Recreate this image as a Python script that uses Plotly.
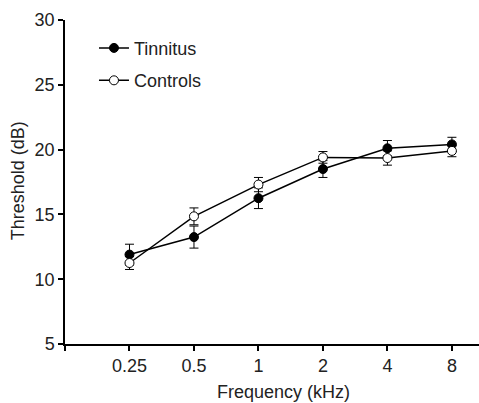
import plotly.graph_objects as go

freq_labels = ["0.25", "0.5", "1", "2", "4", "8"]
tinnitus = [11.9, 13.25, 16.25, 18.5, 20.1, 20.4]
tinnitus_err = [0.8, 0.85, 0.8, 0.65, 0.6, 0.55]
controls = [11.25, 14.85, 17.3, 19.4, 19.35, 19.9]
controls_err = [0.5, 0.65, 0.55, 0.45, 0.55, 0.45]

xpos = list(range(1, len(freq_labels) + 1))
font = "Liberation Sans, Arial, sans-serif"

fig = go.Figure()
fig.add_trace(go.Scatter(
    x=xpos, y=tinnitus, name="Tinnitus", mode="lines+markers",
    line=dict(color="black", width=1.5),
    marker=dict(symbol="circle", size=9, color="black", line=dict(color="black", width=1)),
    error_y=dict(type="data", array=tinnitus_err, color="black", thickness=1, width=4.5),
    legendgroup="t",
))
fig.add_trace(go.Scatter(
    x=xpos, y=controls, name="Controls", mode="lines+markers",
    line=dict(color="black", width=1.5),
    marker=dict(symbol="circle", size=9, color="white", line=dict(color="black", width=1)),
    error_y=dict(type="data", array=controls_err, color="black", thickness=1, width=4.5),
    legendgroup="c",
))

fig.update_layout(
    width=479, height=403,
    margin=dict(l=65, r=0, t=19.5, b=59),
    paper_bgcolor="white", plot_bgcolor="white",
    font=dict(family=font, size=18, color="#222"),
    showlegend=True,
    legend=dict(x=0.07, y=0.97, xanchor="left", yanchor="top",
                bgcolor="rgba(0,0,0,0)", font=dict(size=18, color="#222"),
                tracegroupgap=6, itemwidth=30),
    xaxis=dict(range=[0, 6.42], tickmode="array", tickvals=[0] + xpos, ticktext=[""] + freq_labels,
               showline=True, linecolor="black", linewidth=1.5, ticks="outside", ticklen=5,
               tickwidth=1.5, tickcolor="black", showgrid=False, zeroline=False,
               tickfont=dict(size=18, color="#222")),
    yaxis=dict(range=[5, 30], tickvals=[5, 10, 15, 20, 25, 30],
               showline=True, linecolor="black", linewidth=1.5, ticks="outside", ticklen=5,
               tickwidth=1.5, tickcolor="black", showgrid=False, zeroline=False,
               tickfont=dict(size=18, color="#222")),
    annotations=[
        dict(text="Frequency (kHz)", xref="paper", yref="paper", x=(283 - 65) / 414, y=-(392 - 344) / 324.5,
             xanchor="center", yanchor="middle", showarrow=False, font=dict(size=18, color="#222")),
        dict(text="Threshold (dB)", xref="paper", yref="paper", x=-(65 - 18) / 414, y=(344 - 181) / 324.5,
             xanchor="center", yanchor="middle", textangle=-90, showarrow=False,
             font=dict(size=18, color="#222")),
    ],
)

fig.write_html("out.html", config={"displayModeBar": False},
               post_script="document.body.style.margin='0';document.body.style.overflow='hidden';")
